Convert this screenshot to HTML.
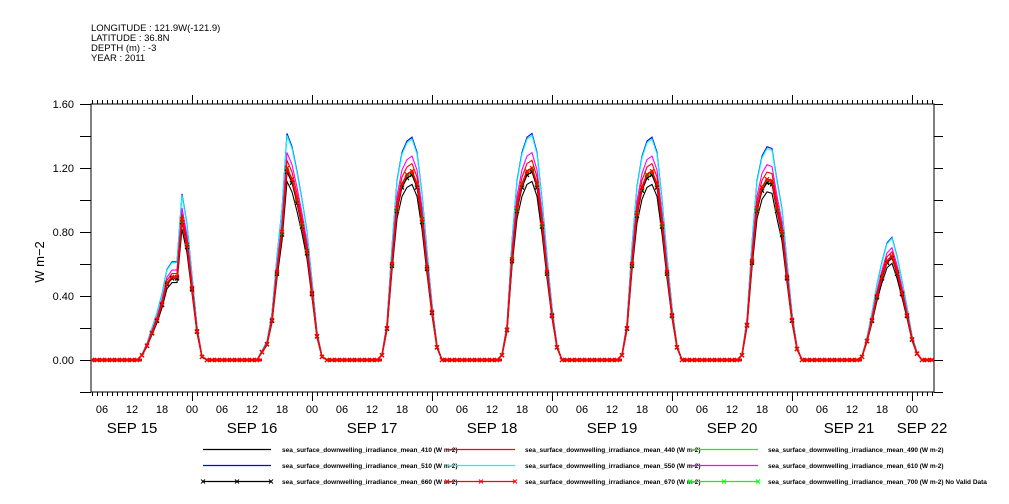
<!DOCTYPE html>
<html><head><meta charset="utf-8"><style>
body{margin:0;background:#fff;width:1009px;height:504px;overflow:hidden}
svg{display:block;font-family:"Liberation Sans",sans-serif}
</style></head><body>
<svg id="chart" width="1009" height="504" viewBox="0 0 1009 504">
<g font-size="9.5" fill="#000">
<text x="91" y="31">LONGITUDE : 121.9W(-121.9)</text>
<text x="91" y="41">LATITUDE : 36.8N</text>
<text x="91" y="51">DEPTH (m) : -3</text>
<text x="91" y="61">YEAR : 2011</text>
</g>
<text font-size="13" transform="translate(44,262) rotate(-90)" text-anchor="middle">W m−2</text>
<defs><clipPath id="pc"><rect x="91" y="104" width="843" height="288"/></clipPath></defs>
<g id="axes"></g>
<g id="series" clip-path="url(#pc)"></g>
<g id="legend"></g>
</svg>
<script>
// hours 13..27 of each day (Sep 15..21), red-x (670) values
const dayLabels = ["SEP 15","SEP 16","SEP 17","SEP 18","SEP 19","SEP 20","SEP 21","SEP 22"];
const dayValues = [
 [0,0.03,0.09,0.17,0.25,0.35,0.48,0.52,0.52,0.88,0.72,0.45,0.18,0.02,0],
 [0,0.05,0.10,0.25,0.55,0.80,1.20,1.13,1.00,0.85,0.68,0.42,0.15,0.02,0],
 [0,0.03,0.20,0.60,0.95,1.10,1.16,1.18,1.10,0.88,0.58,0.30,0.08,0,0],
 [0,0.03,0.19,0.63,0.95,1.10,1.18,1.20,1.10,0.85,0.55,0.28,0.08,0,0],
 [0,0.03,0.20,0.60,0.92,1.08,1.16,1.18,1.10,0.85,0.55,0.28,0.08,0,0],
 [0,0.03,0.22,0.62,0.95,1.08,1.13,1.12,0.95,0.80,0.52,0.25,0.07,0,0],
 [0,0.02,0.12,0.25,0.40,0.52,0.62,0.65,0.55,0.42,0.28,0.13,0.04,0,0]
];
const seriesNames = ["410","440","490","510","550","610","660","670","700"];
const seriesRatios = [0.93,1.04,1.0,1.18,1.17,1.08,0.98,1.0,0.99];
const yTicks = ["0.00","0.40","0.80","1.20","1.60"];
const hourTickLabels = ["06","12","18","00"];

const NS="http://www.w3.org/2000/svg";
const X0=91,X1=934,Y0=104,Y1=392;
const xS=t=>72+t*5;
const yS=v=>360-v*160;
function mk(tag,attrs,parent){const e=document.createElementNS(NS,tag);for(const k in attrs)e.setAttribute(k,attrs[k]);parent.appendChild(e);return e;}

const base=[];
for(let t=0;t<=176;t++){const d=Math.floor(t/24),h=t%24;let v=0;
 if(d<7&&h>=13&&h<=23)v=dayValues[d][h-13];
 if(d>=1&&d<=7&&h<=3&&dayValues[d-1])v=dayValues[d-1][h+11];
 base.push(v);}

const ax=document.getElementById('axes');
const frame=mk('rect',{x:X0,y:Y0,width:X1-X0,height:Y1-Y0,fill:'none',stroke:'#000','stroke-width':1},ax);


for(let v=-0.2;v<=1.61;v+=0.2){const y=Math.round(yS(v))+0.5;
 mk('line',{x1:X0-11,x2:X0,y1:y,y2:y,stroke:'#000'},ax);
 mk('line',{x1:X1,x2:X1+9,y1:y,y2:y,stroke:'#000'},ax);}
yTicks.forEach((s,i)=>{const t=mk('text',{x:74,y:yS(i*0.4)+4,'text-anchor':'end','font-size':11},ax);t.textContent=s;
 
 });
for(let t=4;t<=172;t++){const x=Math.round(xS(t))+0.5,maj=t%24===0;
 mk('line',{x1:x,x2:x,y1:Y0,y2:Y0-(maj?9:4),stroke:'#000'},ax);
 mk('line',{x1:x,x2:x,y1:Y1,y2:Y1+(maj?9:4),stroke:'#000'},ax);
 if(t%6===0){const l=mk('text',{x:xS(t),y:413,'text-anchor':'middle','font-size':11},ax);l.textContent=hourTickLabels[(t/6+3)%4];
  
  }}
dayLabels.forEach((s,d)=>{let x=xS(d*24+12);if(d===7)x=922;if(d===6)x=849;
 const l=mk('text',{x:x,y:433,'text-anchor':'middle','font-size':15},ax);l.textContent=s;
 
 });

const colors=["#000","#f00","#0f0","#00f","#0ff","#f0f","#000","#f00","#0f0"];
const markers=[false,false,false,false,false,false,true,true,true];
const order=[3,4,5,1,2,0,8,6,7];
const sg=document.getElementById('series');
order.forEach(i=>{
 const pts=base.map((v,t)=>xS(t).toFixed(1)+','+yS(v*seriesRatios[i]).toFixed(1)).join(' ');
 const p=mk('polyline',{points:pts,fill:'none',stroke:colors[i],'stroke-width':i===7?1.6:1.1},sg);
 
 
 if(markers[i]){base.forEach((v,t)=>{const x=xS(t),y=yS(v*seriesRatios[i]);
  const m=mk('path',{d:`M${x-2},${y-2}L${x+2},${y+2}M${x-2},${y+2}L${x+2},${y-2}`,stroke:colors[i],'stroke-width':1.2},sg);
  
  });}
});
// thick red zero baseline (dense markers in reference)
base.forEach((v,t)=>{if(v===0&&t<176){const seg=mk('line',{x1:xS(t),x2:xS(t+1),y1:360,y2:360,stroke:'#f00','stroke-width':3},sg);
 
 }});

const lg=document.getElementById('legend');
const colX=[[203,271,282],[447,515,525],[690,758,768]];
const rowY=[449,465,481];
for(let r=0;r<3;r++)for(let c=0;c<3;c++){const i=r*3+c;const [a,b,tx]=colX[c];const y=rowY[r]+0.5;
 const g=mk('g',{},lg);
 
 
 mk('line',{x1:a,x2:b,y1:y,y2:y,stroke:colors[i],'stroke-width':1.2},g);
 if(markers[i])[a,(a+b)/2,b].forEach(x=>mk('path',{d:`M${x-2},${y-2}L${x+2},${y+2}M${x-2},${y+2}L${x+2},${y-2}`,stroke:colors[i]},g));
 const t=mk('text',{x:tx,y:y+2.5,'font-size':6.5,'font-weight':'bold'},g);
 t.textContent='sea_surface_downwelling_irradiance_mean_'+seriesNames[i]+' (W m-2)'+(i===8?' No Valid Data':'');}
</script>
</body></html>
